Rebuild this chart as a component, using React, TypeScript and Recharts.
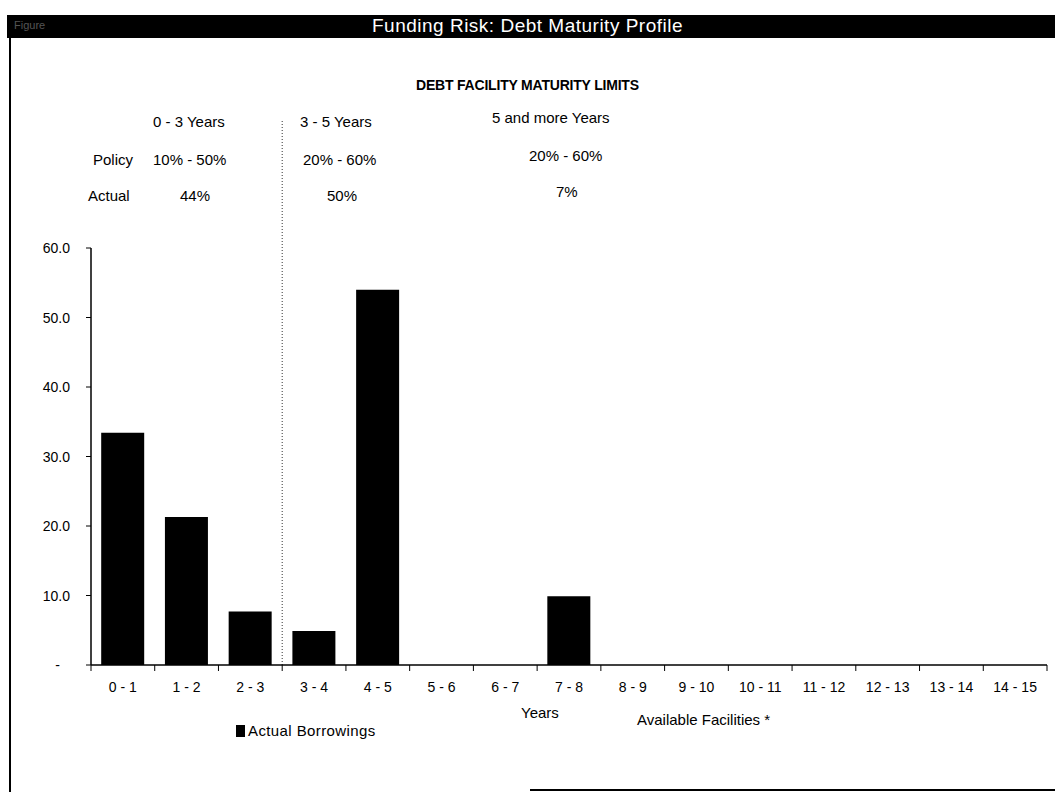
import { BarChart, Bar, XAxis, YAxis, ReferenceLine, Legend } from 'recharts';

const buckets = ['0 - 1', '1 - 2', '2 - 3', '3 - 4', '4 - 5', '5 - 6', '6 - 7', '7 - 8', '8 - 9', '9 - 10', '10 - 11', '11 - 12', '12 - 13', '13 - 14', '14 - 15'];
const borrowings = [33.4, 21.3, 7.7, 4.9, 54.0, 0, 0, 9.9, 0, 0, 0, 0, 0, 0, 0];
const yTicks = [0, 10, 20, 30, 40, 50, 60];

// divider sits at the start of the 3-4 bucket and runs up through the limits table
const dividerBucket = '3 - 4';
const dividerTop = 78.4;

const data = buckets.map((bucket, i) => ({ bucket, borrowings: borrowings[i] }));

const FONT = '"Liberation Sans", Arial, sans-serif';
const TICK = 6;

function YTick(props: any) {
  const { x, y, payload } = props;
  const zero = payload.value === 0;
  return (
    <text x={zero ? x - 10 : x} y={y} dy={5} textAnchor="end" fontSize={14} fontFamily={FONT} fill="#000">
      {zero ? '-' : payload.value.toFixed(1)}
    </text>
  );
}

// tick marks go on the bucket edges, labels in the middle
function XTick(props: any) {
  const { x, y, payload, index, width, visibleTicksCount } = props;
  const n = visibleTicksCount || buckets.length;
  const half = (typeof width === 'number' && width > 0 ? width : 956) / n / 2;
  const axisY = y - TICK;
  return (
    <g>
      <line x1={x - half} x2={x - half} y1={axisY} y2={axisY + TICK} stroke="#000" />
      {index === n - 1 && <line x1={x + half} x2={x + half} y1={axisY} y2={axisY + TICK} stroke="#000" />}
      <text x={x} y={axisY + 27} textAnchor="middle" fontSize={14} fontFamily={FONT} fill="#000">
        {payload.value}
      </text>
    </g>
  );
}

function LegendContent(props: any) {
  const items = props.payload || [];
  return (
    <div style={{ position: 'relative', height: 24, fontFamily: FONT, fontSize: 15, color: '#000' }}>
      {items.map((it: any) => (
        <div key={it.value} style={{ position: 'absolute', left: 236, top: 4, display: 'flex', alignItems: 'center', letterSpacing: 0.4 }}>
          <span style={{ width: 9, height: 12, background: '#000', display: 'inline-block', marginRight: 3 }} />
          {it.value}
        </div>
      ))}
      <div style={{ position: 'absolute', left: 637, top: -7 }}>Available Facilities *</div>
    </div>
  );
}

const txt = (left: number, top: number, s: string, extra: any = {}) => (
  <div style={{ position: 'absolute', left, top, fontFamily: FONT, fontSize: 15, color: '#000', whiteSpace: 'nowrap', ...extra }}>{s}</div>
);

export default function App() {
  return (
    <div style={{ position: 'absolute', left: 0, top: 0, width: 1055, height: 792, background: '#fff', overflow: 'hidden' }}>
      {/* window frame */}
      <div style={{ position: 'absolute', left: 7, top: 15, width: 1048, height: 23, background: '#000' }} />
      <div style={{ position: 'absolute', left: 14, top: 19, fontFamily: FONT, fontSize: 11, color: '#555' }}>Figure</div>
      <div style={{ position: 'absolute', left: 0, top: 15, width: 1055, textAlign: 'center', fontFamily: FONT, fontSize: 19, letterSpacing: 0.5, color: '#fff' }}>
        Funding Risk: Debt Maturity Profile
      </div>
      <div style={{ position: 'absolute', left: 9, top: 38, width: 2, height: 754, background: '#000' }} />
      <div style={{ position: 'absolute', left: 530, top: 789, width: 525, height: 2, background: '#000' }} />

      {/* limits table */}
      {txt(416, 77, 'DEBT FACILITY MATURITY LIMITS', { fontWeight: 'bold', fontSize: 14, letterSpacing: -0.2 })}
      {txt(153, 113, '0 - 3 Years')}
      {txt(300, 113, '3 - 5 Years')}
      {txt(492, 109, '5 and more Years')}
      {txt(93, 151, 'Policy')}
      {txt(153, 151, '10% - 50%')}
      {txt(303, 151, '20% - 60%')}
      {txt(529, 147, '20% - 60%')}
      {txt(88, 187, 'Actual')}
      {txt(180, 187, '44%')}
      {txt(327, 187, '50%')}
      {txt(556, 183, '7%')}
      {txt(521, 704, 'Years')}

      <div style={{ position: 'absolute', left: 0, top: 0 }}>
        <BarChart width={1055} height={792} data={data} margin={{ top: 248, right: 8, bottom: 96, left: 31 }} barCategoryGap="16%">
          <XAxis
            dataKey="bucket"
            interval={0}
            axisLine={{ stroke: '#000', strokeWidth: 1.5 }}
            tickLine={false}
            tickSize={TICK}
            tickMargin={0}
            tick={<XTick />}
            height={31}
          />
          <YAxis
            domain={[0, 60]}
            ticks={yTicks}
            width={60}
            tickSize={5}
            tickMargin={16}
            tick={<YTick />}
            tickLine={{ stroke: '#000' }}
            axisLine={{ stroke: '#000', strokeWidth: 1.5 }}
          />
          <ReferenceLine
            segment={[{ x: dividerBucket, y: 0 }, { x: dividerBucket, y: dividerTop }]}
            position="start"
            ifOverflow="visible"
            stroke="#333"
            strokeDasharray="1 2"
          />
          <Bar dataKey="borrowings" name="Actual Borrowings" fill="#000" isAnimationActive={false} />
          <Legend layout="horizontal" verticalAlign="middle" align="center" content={<LegendContent />} wrapperStyle={{ top: 718, left: 0, width: 1055 }} />
        </BarChart>
      </div>
    </div>
  );
}
